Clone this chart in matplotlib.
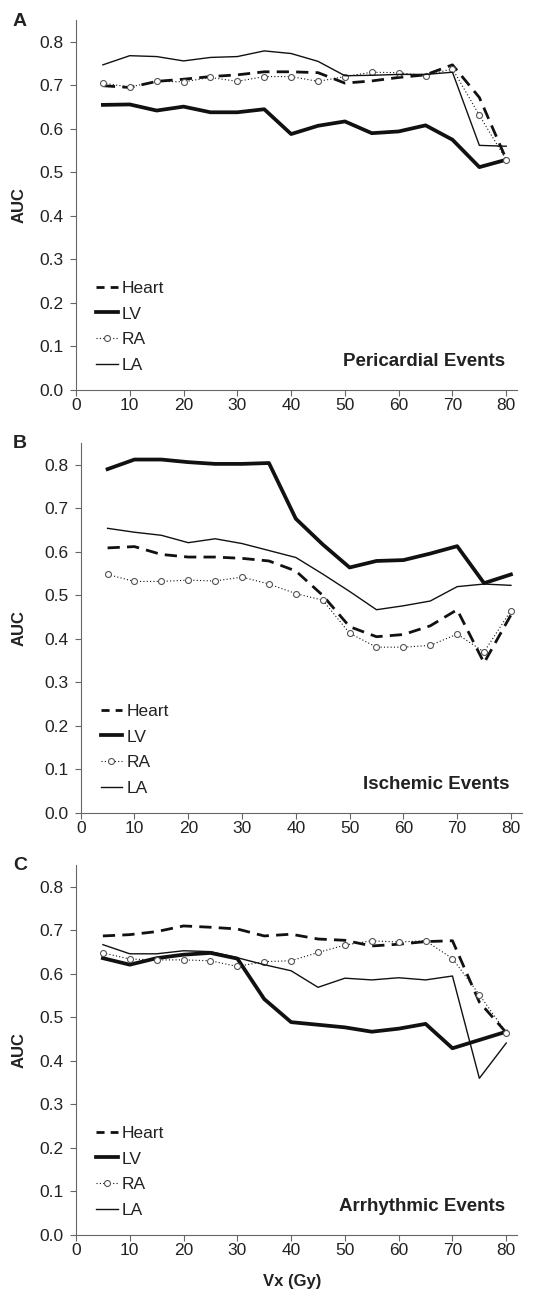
import matplotlib
matplotlib.use('Agg')
import matplotlib.pyplot as plt

plt.rcParams['font.family'] = ['Liberation Sans', 'DejaVu Sans']

vx = [5, 10, 15, 20, 25, 30, 35, 40, 45, 50, 55, 60, 65, 70, 75, 80]

# A: pericardial events
peri_heart = [0.699, 0.695, 0.709, 0.714, 0.720, 0.724, 0.731, 0.731, 0.729, 0.705, 0.710, 0.718, 0.724, 0.747, 0.672, 0.530]
peri_lv = [0.655, 0.656, 0.642, 0.651, 0.638, 0.638, 0.645, 0.588, 0.607, 0.617, 0.590, 0.594, 0.608, 0.575, 0.512, 0.529]
peri_ra = [0.705, 0.696, 0.709, 0.708, 0.718, 0.709, 0.720, 0.720, 0.709, 0.720, 0.730, 0.729, 0.722, 0.738, 0.631, 0.529]
peri_la = [0.747, 0.768, 0.766, 0.756, 0.764, 0.766, 0.779, 0.773, 0.755, 0.722, 0.723, 0.725, 0.725, 0.730, 0.562, 0.560]

# B: ischemic events
isch_heart = [0.609, 0.612, 0.594, 0.588, 0.588, 0.585, 0.579, 0.556, 0.500, 0.428, 0.405, 0.410, 0.430, 0.467, 0.345, 0.455]
isch_lv = [0.790, 0.812, 0.812, 0.806, 0.802, 0.802, 0.804, 0.676, 0.617, 0.564, 0.579, 0.581, 0.596, 0.613, 0.528, 0.548]
isch_ra = [0.548, 0.532, 0.532, 0.535, 0.533, 0.542, 0.526, 0.504, 0.489, 0.413, 0.381, 0.381, 0.385, 0.411, 0.370, 0.465]
isch_la = [0.654, 0.645, 0.638, 0.621, 0.630, 0.619, 0.603, 0.587, 0.549, 0.509, 0.467, 0.476, 0.487, 0.520, 0.526, 0.523]

# C: arrhythmic events
arr_heart = [0.687, 0.690, 0.697, 0.710, 0.707, 0.703, 0.687, 0.691, 0.680, 0.677, 0.664, 0.668, 0.674, 0.676, 0.535, 0.465]
arr_lv = [0.636, 0.621, 0.636, 0.644, 0.648, 0.635, 0.542, 0.489, 0.483, 0.477, 0.467, 0.474, 0.485, 0.429, 0.448, 0.467]
arr_ra = [0.648, 0.634, 0.632, 0.632, 0.630, 0.617, 0.628, 0.630, 0.649, 0.666, 0.676, 0.673, 0.676, 0.635, 0.552, 0.465]
arr_la = [0.667, 0.646, 0.646, 0.653, 0.651, 0.637, 0.621, 0.607, 0.569, 0.590, 0.586, 0.591, 0.586, 0.595, 0.360, 0.441]

panels = [
    ('A', 'Pericardial Events', peri_heart, peri_lv, peri_ra, peri_la),
    ('B', 'Ischemic Events', isch_heart, isch_lv, isch_ra, isch_la),
    ('C', 'Arrhythmic Events', arr_heart, arr_lv, arr_ra, arr_la),
]

W, H = 558, 1296
fig = plt.figure(figsize=(W / 100, H / 100), dpi=100)

# pixel positions of each axes: left, y of 0.0, y of top
boxes = [(76, 390, 20), (80.7, 813, 443), (76, 1235, 865)]
ax_w = 441
line_c = '#111111'
spine_c = '#666666'

for (letter, title, heart, lv, ra, la), (left, bot, top) in zip(panels, boxes):
    ax = fig.add_axes([left / W, (H - bot) / H, ax_w / W, (bot - top) / H])
    ax.plot(vx, heart, color=line_c, lw=2.0, dashes=(4.4, 2.6), label='Heart')
    ax.plot(vx, lv, color=line_c, lw=2.7, label='LV')
    ax.plot(vx, ra, color=line_c, lw=0.8, dashes=(1, 2), marker='o', ms=4.3,
            mfc='white', mec='#555555', mew=0.8, label='RA')
    ax.plot(vx, la, color=line_c, lw=1.0, label='LA')

    ax.set_xlim(0, 82)
    ax.set_ylim(0, 0.85)
    ax.set_xticks(range(0, 81, 10))
    ax.set_yticks([i / 10 for i in range(9)])
    ax.set_yticklabels(['%.1f' % (i / 10) for i in range(9)])
    for s in ['top', 'right']:
        ax.spines[s].set_visible(False)
    for s in ['left', 'bottom']:
        ax.spines[s].set_color(spine_c)
        ax.spines[s].set_linewidth(0.8)
    ax.tick_params(axis='both', colors=spine_c, labelcolor='#222222', labelsize=12.5,
                   length=4, width=0.8)
    ax.tick_params(axis='y', pad=5)
    ax.tick_params(axis='x', pad=1.5)

    ax.set_ylabel('AUC', fontsize=12, fontweight='bold', color='#222222')
    ax.yaxis.set_label_coords((27 - left) / ax_w, 0.5)

    ax.text(0.973, 0.076, title, transform=ax.transAxes, ha='right', va='center',
            fontsize=13.5, fontweight='bold', color='#222222')

    leg = ax.legend(loc='lower left', bbox_to_anchor=(0.045, 0.045), frameon=False,
                    fontsize=12.5, handlelength=1.25, handletextpad=0.25,
                    labelspacing=0.62, borderpad=0, borderaxespad=0)
    # two short dashes in the Heart legend sample
    leg.get_lines()[0].set_dashes((2.9, 2.2))
    for t in leg.get_texts():
        t.set_color('#222222')

    fig.text(13 / W, (H - (top + 1)) / H, letter, ha='left', va='center',
             fontsize=14, fontweight='bold', color='#222222')

    if letter == 'C':
        ax.set_xlabel('Vx (Gy)', fontsize=12, fontweight='bold', color='#222222')
        ax.xaxis.set_label_coords(0.49, (bot - 1274) / (bot - top))

fig.savefig('out.png', dpi=100)
